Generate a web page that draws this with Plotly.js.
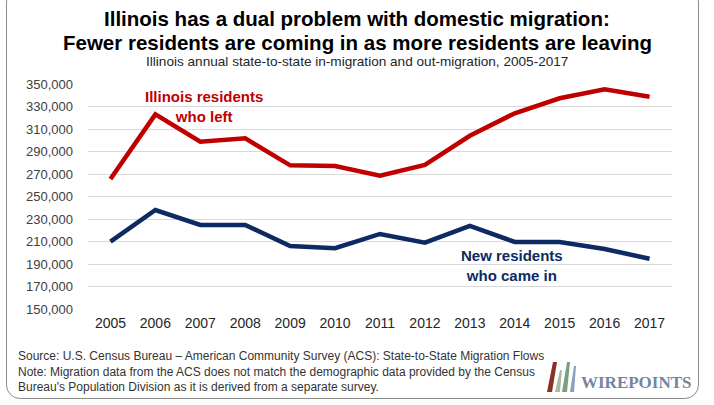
<!DOCTYPE html>
<html>
<head>
<meta charset="utf-8">
<script src="https://cdn.plot.ly/plotly-3.0.1.min.js"></script>
<style>
  html, body { margin: 0; padding: 0; background: #fff; }
  #wrap { position: relative; width: 714px; height: 405px; overflow: hidden; }
  #chart { width: 714px; height: 405px; }
  #frame { position: absolute; left: 6px; top: -12px; width: 693px; height: 411px;
           border: 1.5px solid #8c8c8c; border-radius: 14px; pointer-events: none; box-sizing: border-box; }
</style>
</head>
<body>
<div id="wrap">
  <div id="chart"></div>
  <div id="frame"></div>
</div>
<script>
const years = [2005, 2006, 2007, 2008, 2009, 2010, 2011, 2012, 2013, 2014, 2015, 2016, 2017];
const residentsLeft = [265500, 323000, 298700, 301700, 277700, 277100, 268500, 278000, 304000, 324000, 337300, 345300, 338700];
const residentsCame = [209900, 238000, 224700, 224700, 206000, 204000, 216700, 209000, 223800, 209600, 209600, 203300, 194700];
const yTickVals = [150000, 170000, 190000, 210000, 230000, 250000, 270000, 290000, 310000, 330000, 350000];

const titleLine1 = "Illinois has a dual problem with domestic migration:";
const titleLine2 = "Fewer residents are coming in as more residents are leaving";
const subtitleText = "Illinois annual state-to-state in-migration and out-migration, 2005-2017";
const footerText = "Source: U.S. Census Bureau \u2013 American Community Survey (ACS): State-to-State Migration Flows<br>Note: Migration data from the ACS does not match the demographic data provided by the Census<br>Bureau's Population Division as it is derived from a separate survey.";

const RED = "#C00000", BLUE = "#0D2A63";
const FONT = "Liberation Sans, Arial, sans-serif";

// plot area geometry for paper-coordinate helpers
const L = 88, R = 42, T = 84, B = 96, W = 714 - L - R, H = 405 - T - B;
const px = x => (x - L) / W;
const py = y => (405 - B - y) / H;

const traces = [
  { x: years, y: residentsLeft, type: "scatter", mode: "lines", name: "Illinois residents who left",
    line: { color: RED, width: 4.5 }, hoverinfo: "x+y" },
  { x: years, y: residentsCame, type: "scatter", mode: "lines", name: "New residents who came in",
    line: { color: BLUE, width: 4.5 }, hoverinfo: "x+y" }
];

function bar(x1t, x2t, y1, x1b, x2b, y2, col) {
  return { type: "path", xref: "paper", yref: "paper", fillcolor: col, line: { width: 0 },
    path: `M ${px(x1t)} ${py(y1)} L ${px(x2t)} ${py(y1)} L ${px(x2b)} ${py(y2)} L ${px(x1b)} ${py(y2)} Z` };
}

const titleFont = { family: FONT, size: 20.5, color: "#000", weight: "bold" };

const layout = {
  width: 714, height: 405,
  margin: { l: L, r: R, t: T, b: B },
  paper_bgcolor: "#fff", plot_bgcolor: "#fff",
  showlegend: false,
  font: { family: FONT, color: "#404040" },
  xaxis: { range: [2004.5, 2017.5], tickmode: "array", tickvals: years, ticktext: years.map(String),
           showgrid: false, zeroline: false, showline: false, ticks: "",
           tickfont: { size: 14, color: "#262626" }, ticklabelstandoff: 4 },
  yaxis: { range: [150000, 350000], tickmode: "array", tickvals: yTickVals,
           ticktext: yTickVals.map(v => v.toLocaleString("en-US")),
           showgrid: true, gridcolor: "#d9d9d9", gridwidth: 1, zeroline: false, showline: false,
           ticks: "", tickfont: { size: 13, color: "#404040" }, ticklabelstandoff: 14 },
  annotations: [
    { text: titleLine1, xref: "paper", yref: "paper", x: px(357), y: py(19), xanchor: "center", yanchor: "middle",
      showarrow: false, font: titleFont },
    { text: titleLine2, xref: "paper", yref: "paper", x: px(357), y: py(43), xanchor: "center", yanchor: "middle",
      showarrow: false, font: titleFont },
    { text: subtitleText, xref: "paper", yref: "paper", x: px(357), y: py(61), xanchor: "center", yanchor: "middle",
      showarrow: false, font: { size: 13.6, color: "#262626" } },
    { text: "<b>Illinois residents<br>who left</b>", xref: "x", yref: "y", x: 2007.09, y: 330200,
      xanchor: "center", yanchor: "middle", showarrow: false, font: { size: 15, color: RED } },
    { text: "<b>New residents<br>who came in</b>", xref: "x", yref: "y", x: 2013.93, y: 189000,
      xanchor: "center", yanchor: "middle", showarrow: false, font: { size: 15, color: BLUE } },
    { text: footerText, xref: "paper", yref: "paper", x: px(16), y: py(347), xanchor: "left", yanchor: "top",
      align: "left", showarrow: false, font: { size: 12, color: "#333" } },
    { text: "<b>WIREPOINTS</b>", xref: "paper", yref: "paper", x: px(579), y: py(382), xanchor: "left", yanchor: "middle",
      showarrow: false, font: { family: "Liberation Serif, DejaVu Serif, serif", size: 17, color: "#7186a6" } }
  ],
  shapes: [
    bar(553, 557, 362, 547, 552, 392, "#8a3222"),
    bar(560, 562, 370, 555, 560, 392, "#a9bba5"),
    bar(567, 570, 362, 562, 567, 392, "#789f82"),
    bar(574, 576, 366, 570, 574, 392, "#8aa0c0")
  ]
};

Plotly.newPlot("chart", traces, layout, { displayModeBar: false, staticPlot: true });
</script>
</body>
</html>
